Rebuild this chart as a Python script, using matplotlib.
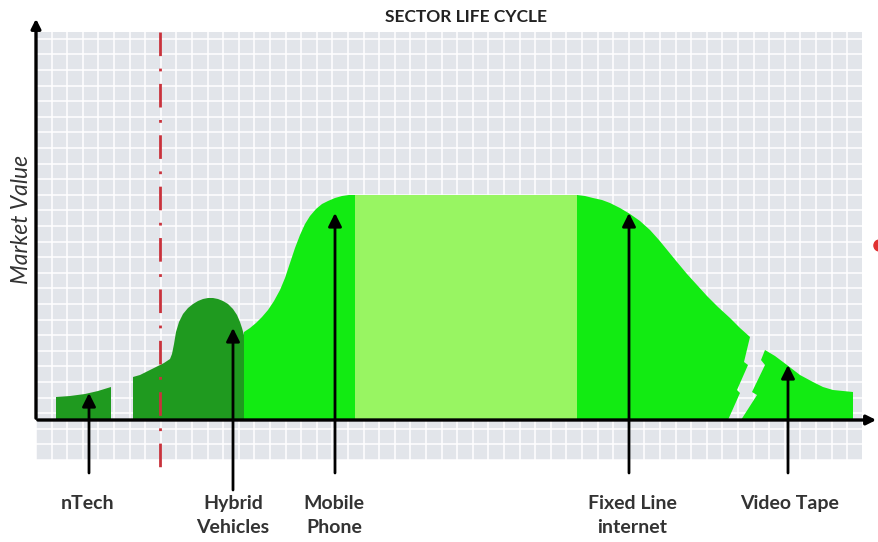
import numpy as np
import matplotlib.pyplot as plt

# --- chart data (x = time, y = market value, baseline = 0) ---
title = 'SECTOR LIFE CYCLE'
y_label = 'Market Value'

ntech_x = [56, 70, 85, 98, 111, 111, 56]
ntech_y = [23, 24, 26, 29, 33, 0, 0]

hybrid_x = [133, 140, 148, 156, 164, 170, 172, 174, 176, 179, 183, 188, 193, 198, 203, 208,
            213, 218, 223, 228, 233, 237, 240, 242, 244, 244, 133]
hybrid_y = [43, 45, 49, 53, 57, 61, 66, 76, 88, 98, 106, 112, 116, 119, 121, 122,
            122, 121, 119, 116, 111, 105, 98, 92, 85, 0, 0]

mobile_x = [244, 250, 256, 262, 268, 274, 280, 285, 290, 295, 300, 305, 310, 316, 322, 328,
            335, 342, 349, 355, 355, 244]
mobile_y = [88, 92, 97, 103, 110, 119, 130, 142, 157, 172, 185, 196, 204, 211, 216, 219,
            222, 224, 225, 225, 0, 0]

mature_x = [355, 578]
mature_y = [225, 225]

fixed_x = [577, 585, 593, 602, 610, 620, 630, 640, 650, 659, 668, 677, 687, 697, 707, 718,
           730, 740, 750, 744, 748, 737, 740, 728, 577]
fixed_y = [225, 224, 222, 220, 217, 212, 206, 199, 190, 180, 169, 158, 146, 135, 124, 113,
           102, 92, 83, 58, 55, 30, 27, 0, 0]

video_x = [741, 757, 752, 765, 761, 765, 775, 787, 800, 813, 823, 833, 843, 853, 853]
video_y = [0, 25, 28, 55, 60, 70, 64, 55, 45, 38, 33, 30, 29, 28, 0]

# arrows: (x, tail value, head value) and labels
labels = ['nTech', 'Hybrid\nVehicles', 'Mobile\nPhone', 'Fixed Line\ninternet', 'Video Tape']
arrow_x = [89, 233, 335, 629, 788]
arrow_tail = [-53, -70, -53, -53, -53]
arrow_head = [27, 92, 207, 207, 55]
label_x = [88, 233, 334, 632, 790]

divider_x = 160

# --- colours ---
c_dark = '#1f9a1f'
c_bright = '#12eb12'
c_light = '#98f562'
c_grid_bg = '#e2e5ea'

fig = plt.figure(figsize=(8.79, 5.42), dpi=100)
ax = fig.add_axes([0, 0, 1, 1])
ax.set_xlim(0, 879)
ax.set_ylim(-122, 420)
ax.axis('off')

# background grid
ax.fill_between([36, 862], -40, 388, color=c_grid_bg, lw=0, zorder=0)
for gx in np.arange(36, 863, 15.6):
    ax.plot([gx, gx], [-40, 388], color='white', lw=1.1, zorder=1)
for gy in np.arange(-40, 389, 15.6):
    ax.plot([36, 862], [gy, gy], color='white', lw=1.1, zorder=1)

# sector shapes
ax.fill(ntech_x, ntech_y, color=c_dark, lw=0, zorder=3)
ax.fill(hybrid_x, hybrid_y, color=c_dark, lw=0, zorder=4)
ax.fill(mobile_x, mobile_y, color=c_bright, lw=0, zorder=3)
ax.fill_between(mature_x, 0, mature_y, color=c_light, lw=0, zorder=3)
ax.fill(fixed_x, fixed_y, color=c_bright, lw=0, zorder=3)
ax.fill(video_x, video_y, color=c_bright, lw=0, zorder=3)

# red divider
ax.plot([divider_x, divider_x], [388, -50], color='#c8323c', lw=2,
        linestyle=(0, (8.5, 4.5, 1, 4.5)), zorder=5)

# axes arrows
ax.annotate('', xy=(36, 404), xytext=(36, -1),
            arrowprops=dict(arrowstyle='-|>', color='black', lw=2.4, mutation_scale=14), zorder=6)
ax.annotate('', xy=(879, 0), xytext=(35, 0),
            arrowprops=dict(arrowstyle='-|>', color='black', lw=2.4, mutation_scale=14), zorder=6)

# pointer arrows and labels
for x, t, h, lx, lab in zip(arrow_x, arrow_tail, arrow_head, label_x, labels):
    ax.annotate('', xy=(x, h), xytext=(x, t),
                arrowprops=dict(arrowstyle='-|>', color='black', lw=2, mutation_scale=20,
                                shrinkA=0, shrinkB=0), zorder=7)
    ax.text(lx, -75, lab, ha='center', va='top', fontsize=14, fontweight='bold',
            family='Lato', color='#333333', linespacing=1.5)

ax.text(466, 403, title, ha='center', va='center', fontsize=12.5, fontweight='bold',
        family='Lato', color='#222222')
ax.text(22, 201, y_label, ha='center', va='center', rotation=90, fontsize=16.5,
        style='italic', family='Lato', color='#333333')

# partial red marker at the right edge
ax.plot([879], [175], 'o', color='#e03030', ms=8, clip_on=True, zorder=2)

fig.savefig('out.png', dpi=100)
